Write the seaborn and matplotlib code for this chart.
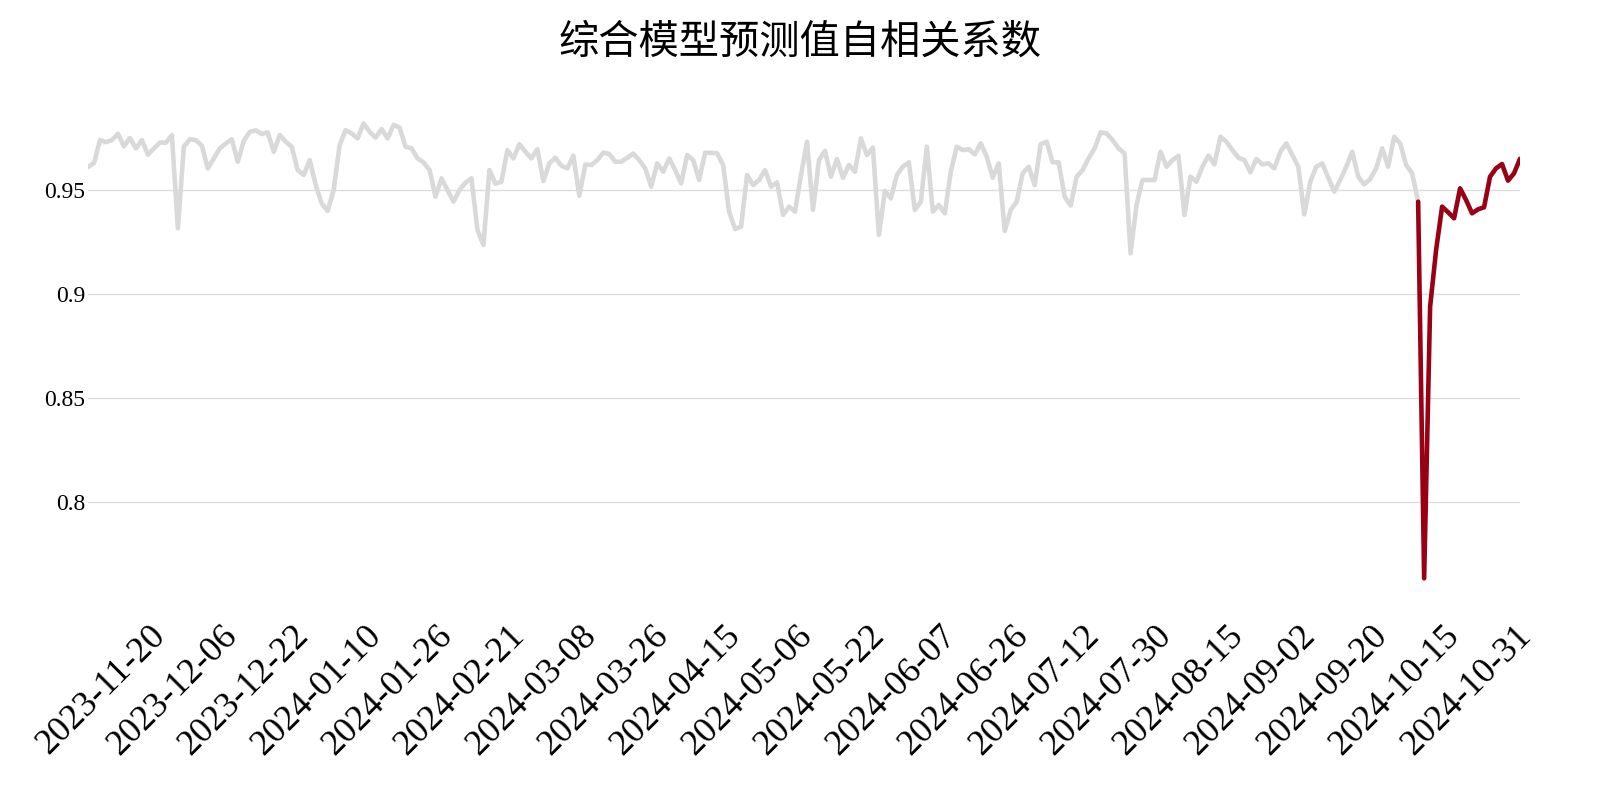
import numpy as np
import pandas as pd
import matplotlib
matplotlib.use("Agg")
import matplotlib.pyplot as plt
import matplotlib.transforms as mtransforms
import seaborn as sns

# ---------------- data ----------------
title = "综合模型预测值自相关系数"

start_date = "2023-11-03"
end_date = "2024-10-31"
holidays = ["2024-01-01", "2024-02-09", "2024-02-12", "2024-02-13", "2024-02-14",
            "2024-02-15", "2024-02-16", "2024-04-04", "2024-04-05", "2024-05-01",
            "2024-05-02", "2024-05-03", "2024-06-10", "2024-09-16", "2024-09-17",
            "2024-10-01", "2024-10-02", "2024-10-03", "2024-10-04", "2024-10-07"]

history_values = [
    0.961, 0.963, 0.974, 0.973, 0.974, 0.977, 0.971, 0.975, 0.970, 0.974,
    0.967, 0.970, 0.9728, 0.9728, 0.9764, 0.9316, 0.9708, 0.9744, 0.9740, 0.9713,
    0.9604, 0.9652, 0.9700, 0.9724, 0.9744, 0.9636, 0.9736, 0.9780, 0.9787, 0.9769,
    0.9777, 0.9684, 0.9764, 0.9732, 0.9708, 0.9596, 0.9572, 0.9644, 0.9524, 0.9436,
    0.9399, 0.9500, 0.9716, 0.9788, 0.9772, 0.9748, 0.9820, 0.9780, 0.9752, 0.9793,
    0.9748, 0.9813, 0.9800, 0.9708, 0.9700, 0.9652, 0.9633, 0.9596, 0.9468, 0.9556,
    0.9500, 0.9444, 0.9500, 0.9535, 0.9556, 0.9308, 0.9236, 0.9596, 0.9530, 0.9540,
    0.9692, 0.9652, 0.9720, 0.9684, 0.9652, 0.9696, 0.9543, 0.9628, 0.9655, 0.9617,
    0.9604, 0.9665, 0.9473, 0.9623, 0.9620, 0.9644, 0.9679, 0.9673, 0.9636, 0.9636,
    0.9655, 0.9675, 0.9644, 0.9604, 0.9516, 0.9628, 0.9588, 0.9652, 0.9596, 0.9532,
    0.9668, 0.9644, 0.9548, 0.9679, 0.9679, 0.9676, 0.9620, 0.9396, 0.9312, 0.9324,
    0.9572, 0.9524, 0.9548, 0.9596, 0.9516, 0.9537, 0.9380, 0.9420, 0.9396, 0.9572,
    0.9732, 0.9404, 0.9644, 0.9688, 0.9564, 0.9649, 0.9559, 0.9620, 0.9588, 0.9748,
    0.9668, 0.9704, 0.9284, 0.9495, 0.9460, 0.9572, 0.9612, 0.9633, 0.9404, 0.9444,
    0.9708, 0.9396, 0.9428, 0.9388, 0.9588, 0.9708, 0.9692, 0.9696, 0.9671, 0.9724,
    0.9660, 0.9559, 0.9628, 0.9303, 0.9404, 0.9444, 0.9580, 0.9612, 0.9524, 0.9720,
    0.9732, 0.9633, 0.9633, 0.9468, 0.9425, 0.9564, 0.9596, 0.9652, 0.9700, 0.9777,
    0.9772, 0.9740, 0.9700, 0.9676, 0.9196, 0.9428, 0.9548, 0.9548, 0.9548, 0.9684,
    0.9612, 0.9644, 0.9665, 0.9380, 0.9564, 0.9540, 0.9612, 0.9665, 0.9623, 0.9756,
    0.9732, 0.9692, 0.9655, 0.9644, 0.9585, 0.9649, 0.9623, 0.9628, 0.9604, 0.9684,
    0.9724, 0.9668, 0.9612, 0.9383, 0.9540, 0.9612, 0.9628, 0.9559, 0.9492, 0.9548,
    0.9612, 0.9684, 0.9564, 0.9527, 0.9553, 0.9604, 0.9700, 0.9612, 0.9756, 0.9724,
    0.9620, 0.9580,
]
recent_values = [
    0.9444, 0.7633, 0.8939, 0.9212, 0.9420, 0.9393, 0.9364, 0.9508, 0.9452, 0.9388,
    0.9407, 0.9417, 0.9564, 0.9604, 0.9625, 0.9545, 0.9580, 0.9650,
]

tick_labels = ["2023-11-20", "2023-12-06", "2023-12-22", "2024-01-10", "2024-01-26",
               "2024-02-21", "2024-03-08", "2024-03-26", "2024-04-15", "2024-05-06",
               "2024-05-22", "2024-06-07", "2024-06-26", "2024-07-12", "2024-07-30",
               "2024-08-15", "2024-09-02", "2024-09-20", "2024-10-15", "2024-10-31"]
y_ticks = [0.8, 0.85, 0.9, 0.95]
y_tick_labels = ["0.8", "0.85", "0.9", "0.95"]

# ---------------- build frame ----------------
dates = pd.bdate_range(start_date, end_date, freq="C", holidays=holidays)
values = history_values + recent_values
n = min(len(dates), len(values))
df = pd.DataFrame({"idx": np.arange(n), "value": values[:n],
                   "date": dates[:n].strftime("%Y-%m-%d")})
split = len(history_values)
grey_part = df.iloc[:split + 1]
red_part = df.iloc[split:]

# ---------------- style ----------------
sns.set_theme(style="white")
plt.rcParams["font.family"] = ["Liberation Serif", "Noto Sans CJK SC", "DejaVu Sans"]

fig = plt.figure(figsize=(16, 8), dpi=100)
ax = fig.add_axes([0.055, 0.2425, 0.895, 0.624])

sns.lineplot(data=grey_part, x="idx", y="value", color="#d9d9d9", linewidth=3.3, ax=ax)
sns.lineplot(data=red_part, x="idx", y="value", color="#990014", linewidth=3.3, ax=ax)

ax.set_xlim(0, n - 1)
ax.set_ylim(0.75, 0.99)
ax.set_yticks(y_ticks)
ax.set_yticklabels(y_tick_labels, fontsize=17, color="black")

date_set = set(df["date"].values)
pos = [int(np.where(df["date"].values == t)[0][0]) for t in tick_labels if t in date_set]
labs = [t for t in tick_labels if t in date_set]
ax.set_xticks(pos)
ax.set_xticklabels([])
offset = mtransforms.ScaledTranslation(18 / 100, -13 / 100, fig.dpi_scale_trans)
label_trans = mtransforms.blended_transform_factory(ax.transData, ax.transAxes) + offset
for p, t in zip(pos, labs):
    ax.text(p, 0, t, transform=label_trans, rotation=45, ha="right", va="top",
            fontsize=26, color="black", clip_on=False)

ax.grid(axis="y", color="#dddddd", linewidth=1)
ax.grid(axis="x", visible=False)
ax.set_axisbelow(True)
for s in ax.spines.values():
    s.set_visible(False)
ax.tick_params(axis="both", length=0)
ax.tick_params(axis="y", pad=2)
ax.set_xlabel("")
ax.set_ylabel("")

fig.text(0.5, 1 - 42 / 800, title, ha="center", va="center", fontsize=29,
         family=["Noto Sans CJK SC", "DejaVu Sans"], color="black")

fig.savefig("out.png", dpi=100, facecolor="white")
